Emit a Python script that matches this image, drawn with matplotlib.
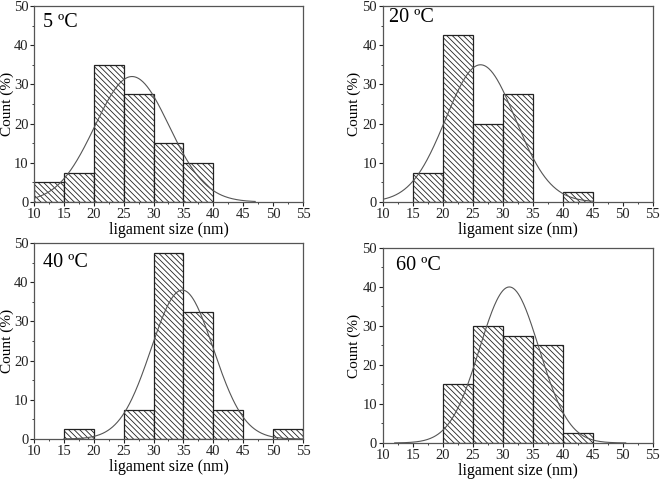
import matplotlib
matplotlib.use("Agg")
from matplotlib import pyplot as plt
from matplotlib.ticker import MultipleLocator
import numpy as np

plt.rcParams['font.family'] = ['Liberation Serif', 'DejaVu Serif']
plt.rcParams['hatch.linewidth'] = 0.6
plt.rcParams['hatch.color'] = '#333333'

# bin left edges (nm), bin width 5
bins_5 = [10, 15, 20, 25, 30, 35]
count_5 = [5, 7.5, 35, 27.5, 15, 10]
bins_20 = [15, 20, 25, 30, 40]
count_20 = [7.5, 42.5, 20, 27.5, 2.5]
bins_40 = [15, 25, 30, 35, 40, 50]
count_40 = [2.5, 7.5, 47.5, 32.5, 7.5, 2.5]
bins_60 = [20, 25, 30, 35, 40]
count_60 = [15, 30, 27.5, 25, 2.5]

# gaussian fit: amplitude, centre, sigma, x range
fit_5 = (32, 26.4, 6.2, 10, 47)
fit_20 = (35, 26.3, 5.8, 10, 45)
fit_40 = (38, 34.8, 5.2, 15, 55)
fit_60 = (40, 31.1, 4.95, 12, 50.5)

labels = ["5 ºC", "20 ºC", "40 ºC", "60 ºC"]
xticks = [10, 15, 20, 25, 30, 35, 40, 45, 50, 55]

panels = [
    (bins_5, count_5, fit_5, [0.0514, 0.581, 0.407, 0.4066], (0.033, 0.965), -0.123),
    (bins_20, count_20, fit_20, [0.579, 0.581, 0.4085, 0.4066], (0.022, 0.99), -0.132),
    (bins_40, count_40, fit_40, [0.0514, 0.0892, 0.407, 0.4066], (0.033, 0.95), -0.123),
    (bins_60, count_60, fit_60, [0.579, 0.081, 0.4085, 0.4046], (0.05, 0.96), -0.132),
]

fig = plt.figure(figsize=(6.61, 4.82), dpi=100)

for i, (b, c, fit, pos, lpos, ylx) in enumerate(panels):
    ax = fig.add_axes(pos)
    ax.bar(b, c, width=5, align='edge', color='white', edgecolor='#222222',
           linewidth=0.9, hatch='\\\\\\\\\\\\', zorder=2)
    a, mu, sig, x0, x1 = fit
    x = np.linspace(x0, x1, 300)
    ax.plot(x, a * np.exp(-(x - mu) ** 2 / (2 * sig ** 2)), color='#555555',
            linewidth=0.8, zorder=3)
    ax.set_xlim(10, 55)
    ax.set_ylim(0, 50)
    ax.set_xticks(xticks)
    ax.set_yticks([0, 10, 20, 30, 40, 50])
    ax.xaxis.set_minor_locator(MultipleLocator(2.5))
    ax.yaxis.set_minor_locator(MultipleLocator(5))
    ax.tick_params(which='major', direction='out', length=3, width=0.8,
                   labelsize=10.5, pad=1, colors='#222222')
    ax.tick_params(which='minor', direction='out', length=1.5, width=0.6,
                   colors='#222222')
    for s in ax.spines.values():
        s.set_color('#555555')
        s.set_linewidth(0.9)
    ax.set_xlabel("ligament size (nm)", fontsize=11.5, labelpad=1)
    ax.text(ylx, 0.5, "Count (%)", transform=ax.transAxes, fontsize=11,
            rotation=90, ha='left', va='center')
    ax.text(lpos[0], lpos[1], labels[i], transform=ax.transAxes, fontsize=14.5,
            va='top', ha='left')

fig.savefig("out.png", dpi=100)
